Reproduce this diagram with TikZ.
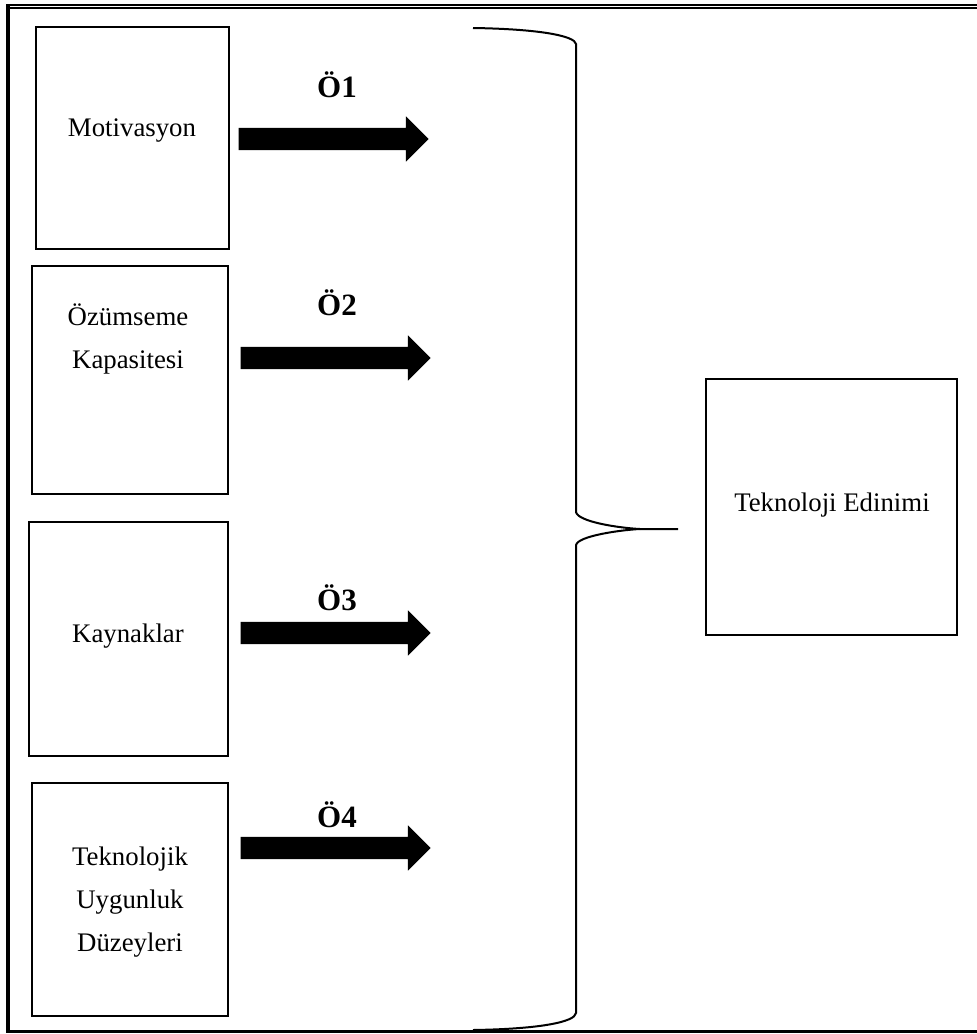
\documentclass[tikz,border=0pt]{standalone}
\usepackage{fontspec}
\setmainfont{Liberation Serif}
\usetikzlibrary{shapes.arrows}
\begin{document}
\begin{tikzpicture}[x=1pt,y=-1pt,
  box/.style={draw=black,line width=1.8pt},
  txt/.style={font=\fontsize{26.8}{43}\selectfont,align=center,inner sep=0pt},
  lab/.style={font=\fontsize{31}{36}\selectfont\bfseries,inner sep=0pt},
  blockarrow/.style={single arrow,fill=black,draw=none,inner sep=0pt,
    text height=11pt,text depth=11pt,text width=0pt,
    minimum height=190pt,single arrow head extend=11.5pt,anchor=center},
  brace/.style={draw=black,line width=2pt}]
\useasboundingbox (0,0) rectangle (977,1034);
% outer frame
\draw[line width=2pt] (6,5) -- (990,5);
\draw[line width=1.2pt] (10,8) -- (990,8);
\draw[line width=3.6pt] (8,4) -- (8,1032.7);
\draw[line width=3pt] (6,1031) -- (990,1031);
% boxes
\draw[box] (36,27) rectangle (229,249);
\draw[box] (32,266) rectangle (228,494);
\draw[box] (29,522) rectangle (228,756);
\draw[box] (32,783) rectangle (228,1016);
\draw[box] (706,379) rectangle (957,635);
% texts
\node[txt] (t1) at (132,131) {Motivasyon};
\node[txt] (t2) at (128,339) {Özümseme\\Kapasitesi};
\node[txt] (t3) at (128,636) {Kaynaklar};
\node[txt] (t4) at (130,902) {Teknolojik\\Uygunluk\\Düzeyleri};
\node[txt] (t5) at (832,505) {Teknoloji Edinimi};
% labels
\node[lab] (l1) at (337,85) {Ö1};
\node[lab] (l2) at (337,303) {Ö2};
\node[lab] (l3) at (337,598) {Ö3};
\node[lab] (l4) at (337,815) {Ö4};
% block arrows
\node[blockarrow] (a1) at (328,139) {};
\node[blockarrow] (a2) at (330,358) {};
\node[blockarrow] (a3) at (330,633) {};
\node[blockarrow] (a4) at (330,848) {};
% brace
\coordinate (btip) at (678,529);
\draw[brace] (473,28) .. controls (540,29) and (575,36) .. (576,44) -- (576,512)
  .. controls (578,522) and (620,528) .. (640,529) -- (btip);
\draw[brace] (640,529) .. controls (620,530) and (578,536) .. (576,545) -- (576,1013)
  .. controls (575,1022) and (540,1029) .. (473,1030);
\end{tikzpicture}
\end{document}
